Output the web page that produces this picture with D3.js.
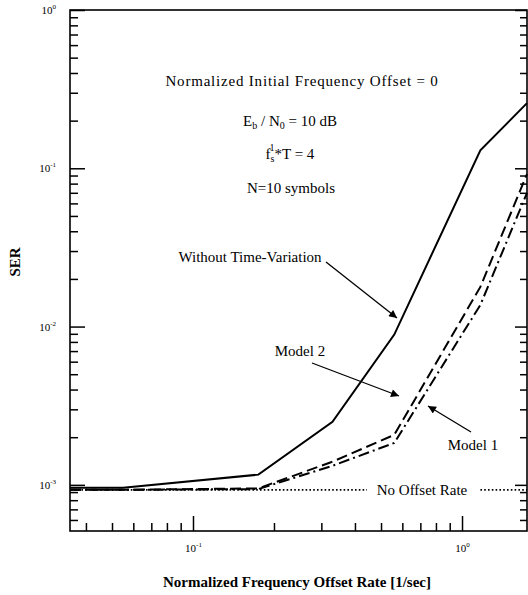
<!DOCTYPE html>
<html>
<head>
<meta charset="utf-8">
<script src="https://cdn.jsdelivr.net/npm/d3@7"></script>
<style>
  body { margin: 0; background: #fff; }
  text { font-family: "Liberation Serif", "Times New Roman", serif; fill: #000; }
</style>
</head>
<body>
<svg id="chart" width="528" height="595"></svg>
<script>
// values
const rateX = [0.0349, 0.055, 0.175, 0.33, 0.56, 1.17, 1.744];
const serNoVariation = [0.96e-3, 0.96e-3, 1.16e-3, 2.5e-3, 8.9e-3, 0.13, 0.258];
const serModel2 = [0.93e-3, 0.93e-3, 0.95e-3, 1.4e-3, 2.07e-3, 0.0178, 0.092];
const serModel1 = [0.93e-3, 0.93e-3, 0.94e-3, 1.32e-3, 1.84e-3, 0.0137, 0.070];
const noOffsetX = [0.0349, 1.744];
const noOffsetSER = [0.93e-3, 0.93e-3];
const xDecades = [0.1, 1];
const yDecades = [1, 0.1, 0.01, 0.001];

const svg = d3.select("#chart");
const plotLeft = 70, plotRight = 527, plotTop = 10, plotBottom = 531;

const x = d3.scaleLog().domain([0.0349, 1.744]).range([plotLeft, plotRight]);
const y = d3.scaleLog().domain([5.11e-4, 1]).range([plotBottom, plotTop]);

const isDecade = v => Math.abs(Math.log10(v) - Math.round(Math.log10(v))) < 1e-6;
const xMinor = x.ticks().filter(v => !isDecade(v));
const yMinor = y.ticks().filter(v => !isDecade(v));

function supLabel(sel) {
  sel.each(function (d) {
    const t = d3.select(this);
    const e = Math.round(Math.log10(d));
    t.text(null);
    t.append("tspan").text("10");
    t.append("tspan").attr("dy", -5).attr("font-size", 7)
      .text(e < 0 ? "-" + (-e) : e);
  });
}

// frame
svg.append("rect")
  .attr("x", plotLeft).attr("y", plotTop)
  .attr("width", plotRight - plotLeft).attr("height", plotBottom - plotTop)
  .attr("fill", "none").attr("stroke", "#000").attr("stroke-width", 1.6);

function styleAxis(g) {
  g.select(".domain").remove();
  g.selectAll("line").attr("stroke", "#000").attr("stroke-width", 1.5);
}

// bottom axis (ticks inward)
svg.append("g").attr("transform", `translate(0,${plotBottom})`)
  .call(d3.axisBottom(x).tickValues(xMinor).tickSize(-8).tickFormat(""))
  .call(styleAxis);
svg.append("g").attr("transform", `translate(0,${plotBottom})`)
  .call(d3.axisBottom(x).tickValues(xDecades).tickSize(-15).tickPadding(13))
  .call(styleAxis)
  .call(g => g.selectAll("text")
    .attr("font-size", 11).attr("font-family", "Liberation Serif")
    .call(supLabel));

// left axis
svg.append("g").attr("transform", `translate(${plotLeft},0)`)
  .call(d3.axisLeft(y).tickValues(yMinor).tickSize(-8).tickFormat(""))
  .call(styleAxis);
svg.append("g").attr("transform", `translate(${plotLeft},0)`)
  .call(d3.axisLeft(y).tickValues(yDecades).tickSize(-15).tickPadding(14))
  .call(styleAxis)
  .call(g => g.selectAll("text")
    .attr("font-size", 11).attr("font-family", "Liberation Serif")
    .call(supLabel));

// right axis
svg.append("g").attr("transform", `translate(${plotRight},0)`)
  .call(d3.axisRight(y).tickValues(yMinor).tickSize(-7).tickFormat(""))
  .call(styleAxis);
svg.append("g").attr("transform", `translate(${plotRight},0)`)
  .call(d3.axisRight(y).tickValues(yDecades).tickSize(-12).tickFormat(""))
  .call(styleAxis);

// curves
const line = d3.line().x(d => x(d[0])).y(d => y(d[1]));

svg.append("path")
  .datum(d3.zip(noOffsetX, noOffsetSER))
  .attr("d", line).attr("fill", "none")
  .attr("stroke", "#000").attr("stroke-width", 1.6)
  .attr("stroke-dasharray", "1.6,2.2");

svg.append("path")
  .datum(d3.zip(rateX, serModel2))
  .attr("d", line).attr("fill", "none")
  .attr("stroke", "#000").attr("stroke-width", 2)
  .attr("stroke-dasharray", "11,5");

svg.append("path")
  .datum(d3.zip(rateX, serModel1))
  .attr("d", line).attr("fill", "none")
  .attr("stroke", "#000").attr("stroke-width", 2)
  .attr("stroke-dasharray", "11,4,2,4");

svg.append("path")
  .datum(d3.zip(rateX, serNoVariation))
  .attr("d", line).attr("fill", "none")
  .attr("stroke", "#000").attr("stroke-width", 2);

// "No Offset Rate" label sits in a gap of the dotted line
svg.append("rect")
  .attr("x", 367).attr("y", 478).attr("width", 113).attr("height", 22)
  .attr("fill", "#fff");
svg.append("text").attr("x", 422).attr("y", 495)
  .attr("text-anchor", "middle").attr("font-size", 15)
  .text("No Offset Rate");

// annotations
const note = svg.append("g").attr("text-anchor", "middle").attr("font-size", 15);
note.append("text").attr("x", 302).attr("y", 86)
  .attr("letter-spacing", 0.8)
  .text("Normalized Initial Frequency Offset = 0");

const eb = note.append("text").attr("x", 290).attr("y", 126);
eb.append("tspan").text("E");
eb.append("tspan").attr("dy", 3).attr("font-size", 10).text("b");
eb.append("tspan").attr("dy", -3).text(" / N");
eb.append("tspan").attr("dy", 3).attr("font-size", 10).text("0");
eb.append("tspan").attr("dy", -3).text(" = 10 dB");

const fs = note.append("text").attr("x", 290).attr("y", 159);
fs.append("tspan").text("f");
fs.append("tspan").attr("dy", 3).attr("font-size", 10).text("s");
fs.append("tspan").attr("dx", -5).attr("dy", -11).attr("font-size", 10).text("1");
fs.append("tspan").attr("dy", 8).text("*T = 4");

note.append("text").attr("x", 291).attr("y", 193).text("N=10 symbols");

// arrows
svg.append("defs").append("marker")
  .attr("id", "head").attr("viewBox", "0 0 10 10")
  .attr("refX", 10).attr("refY", 5)
  .attr("markerWidth", 10).attr("markerHeight", 8)
  .attr("markerUnits", "userSpaceOnUse")
  .attr("orient", "auto")
  .append("path").attr("d", "M0,0L10,5L0,10z").attr("fill", "#000");

const labels = svg.append("g").attr("font-size", 15);
labels.append("text").attr("x", 250).attr("y", 262)
  .attr("text-anchor", "middle").text("Without Time-Variation");
labels.append("text").attr("x", 300).attr("y", 356)
  .attr("text-anchor", "middle").text("Model 2");
labels.append("text").attr("x", 473).attr("y", 450)
  .attr("text-anchor", "middle").text("Model 1");

const arrows = [
  [[326, 262], [397, 318]],
  [[312, 363], [399, 396]],
  [[471, 432], [428, 406]]
];
svg.append("g").selectAll("line").data(arrows).join("line")
  .attr("x1", d => d[0][0]).attr("y1", d => d[0][1])
  .attr("x2", d => d[1][0]).attr("y2", d => d[1][1])
  .attr("stroke", "#000").attr("stroke-width", 1.3)
  .attr("marker-end", "url(#head)");

// axis titles
svg.append("text")
  .attr("x", 297).attr("y", 587)
  .attr("text-anchor", "middle").attr("font-size", 15).attr("font-weight", "bold")
  .text("Normalized Frequency Offset Rate [1/sec]");
svg.append("text")
  .attr("transform", "translate(20,262) rotate(-90)")
  .attr("text-anchor", "middle").attr("font-size", 15).attr("font-weight", "bold")
  .text("SER");
</script>
</body>
</html>
